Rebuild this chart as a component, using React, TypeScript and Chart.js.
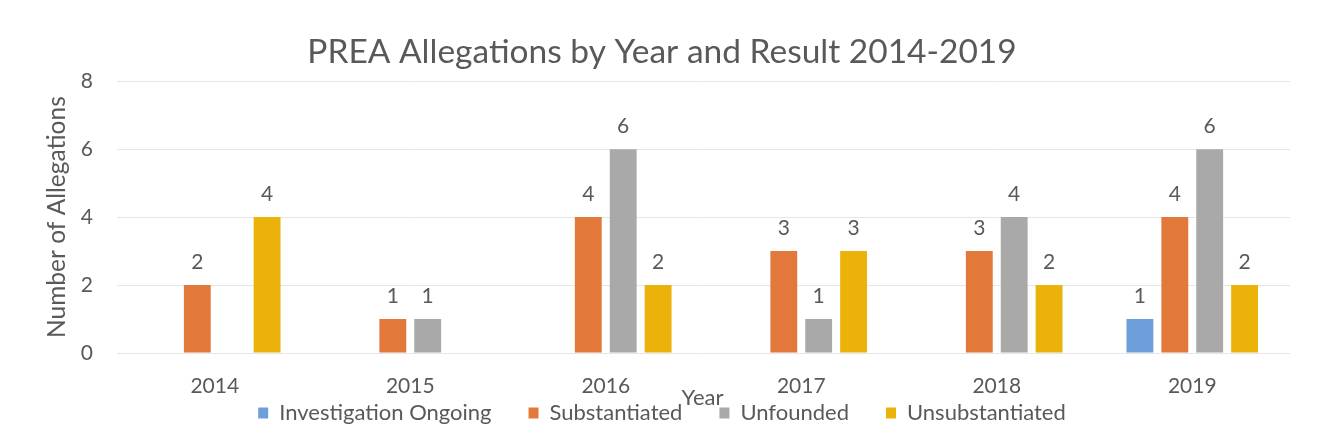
import React, { useEffect, useRef } from "react";
import { Chart, registerables } from "chart.js";

Chart.register(...registerables);

const years = ["2014", "2015", "2016", "2017", "2018", "2019"];
const seriesNames = ["Investigation Ongoing", "Substantiated", "Unfounded", "Unsubstantiated"];
const investigationOngoing = [null, null, null, null, null, 1];
const substantiated = [2, 1, 4, 3, 3, 4];
const unfounded = [null, 1, 6, 1, 4, 6];
const unsubstantiated = [4, null, 2, 3, 2, 2];
const yTicks = [0, 2, 4, 6, 8];
const colors = ["#6f9fda", "#e2793b", "#a9a9a9", "#ebb20a"];

const FONT = "Lato, 'Open Sans', sans-serif";
const TEXT = "#595959";

const labelPlugin = {
  id: "valueLabels",
  afterDatasetsDraw(chart: any) {
    const ctx = chart.ctx;
    ctx.save();
    ctx.font = `21px ${FONT}`;
    ctx.fillStyle = TEXT;
    ctx.textAlign = "center";
    ctx.textBaseline = "bottom";
    chart.data.datasets.forEach((ds: any, i: number) => {
      const meta = chart.getDatasetMeta(i);
      meta.data.forEach((el: any, j: number) => {
        const v = ds.data[j];
        if (v === null || v === undefined) return;
        ctx.fillText(String(v), el.x, el.y - 12);
      });
    });
    ctx.restore();
  },
};

const yearTitlePlugin = {
  id: "yearTitle",
  afterDraw(chart: any) {
    const ctx = chart.ctx;
    const area = chart.chartArea;
    ctx.save();
    ctx.font = `22px ${FONT}`;
    ctx.fillStyle = TEXT;
    ctx.textAlign = "center";
    ctx.textBaseline = "middle";
    ctx.fillText("Year", (area.left + area.right) / 2 - 1, 398);
    ctx.restore();
  },
};

// Keep the legend's vertical footprint small while using wide horizontal item spacing.
const legendFitPlugin = {
  id: "legendFit",
  beforeLayout(chart: any) {
    const lg = chart.legend;
    if (lg && !lg._fitPatched) {
      const orig = lg.fit;
      lg.fit = function (this: any) {
        orig.call(this);
        this.height = 42;
      };
      lg._fitPatched = true;
    }
  },
  afterLayout(chart: any) {
    const lg = chart.legend;
    if (lg) {
      const pad = lg.options.labels.padding;
      const top = 413 - pad - 11;
      lg.top = top;
      lg.bottom = chart.height;
      lg.height = lg.bottom - lg.top;
    }
  },
};

export default function App() {
  const ref = useRef<HTMLCanvasElement | null>(null);
  useEffect(() => {
    document.body.style.margin = "0";
    const seriesData = [investigationOngoing, substantiated, unfounded, unsubstantiated];
    const chart = new Chart(ref.current as HTMLCanvasElement, {
      type: "bar",
      data: {
        labels: years,
        datasets: seriesNames.map((name, i) => ({
          label: name,
          data: seriesData[i] as any,
          backgroundColor: colors[i],
          borderWidth: 0,
          categoryPercentage: 0.714,
          barPercentage: 0.77,
        })),
      },
      options: {
        responsive: false,
        animation: false,
        maintainAspectRatio: false,
        layout: { padding: { left: 34, right: 30, top: 28, bottom: 0 } },
        plugins: {
          title: {
            display: true,
            text: "PREA Allegations by Year and Result 2014-2019",
            color: TEXT,
            font: { family: FONT, size: 33.5, weight: "normal" },
            padding: { top: 4, bottom: 9 },
          },
          legend: {
            position: "bottom",
            labels: {
              color: TEXT,
              font: { family: FONT, size: 22 },
              boxWidth: 10,
              boxHeight: 11,
              padding: 37,
            },
          },
          tooltip: { enabled: false },
        },
        scales: {
          x: {
            grid: { display: false },
            border: { display: false },
            ticks: { color: TEXT, font: { family: FONT, size: 21 }, padding: 13 },
            afterFit(scale: any) {
              scale.height = 52;
            },
          },
          y: {
            min: 0,
            max: 8,
            afterBuildTicks(scale: any) {
              scale.ticks = yTicks.map((v) => ({ value: v }));
            },
            grid: { color: "#e6e6e6", drawTicks: false },
            border: { display: false },
            ticks: { color: TEXT, font: { family: FONT, size: 21 }, padding: 24 },
            title: {
              display: true,
              text: "Number of Allegations",
              color: TEXT,
              font: { family: FONT, size: 24.5 },
              padding: { top: 8, bottom: 0 },
            },
            afterFit(scale: any) {
              scale.width = 83;
            },
          },
        },
      },
      plugins: [legendFitPlugin, labelPlugin, yearTitlePlugin],
    });
    return () => chart.destroy();
  }, []);
  return (
    <div style={{ width: 1320, height: 447, background: "#fff" }}>
      <canvas ref={ref} width={1320} height={447} />
    </div>
  );
}
